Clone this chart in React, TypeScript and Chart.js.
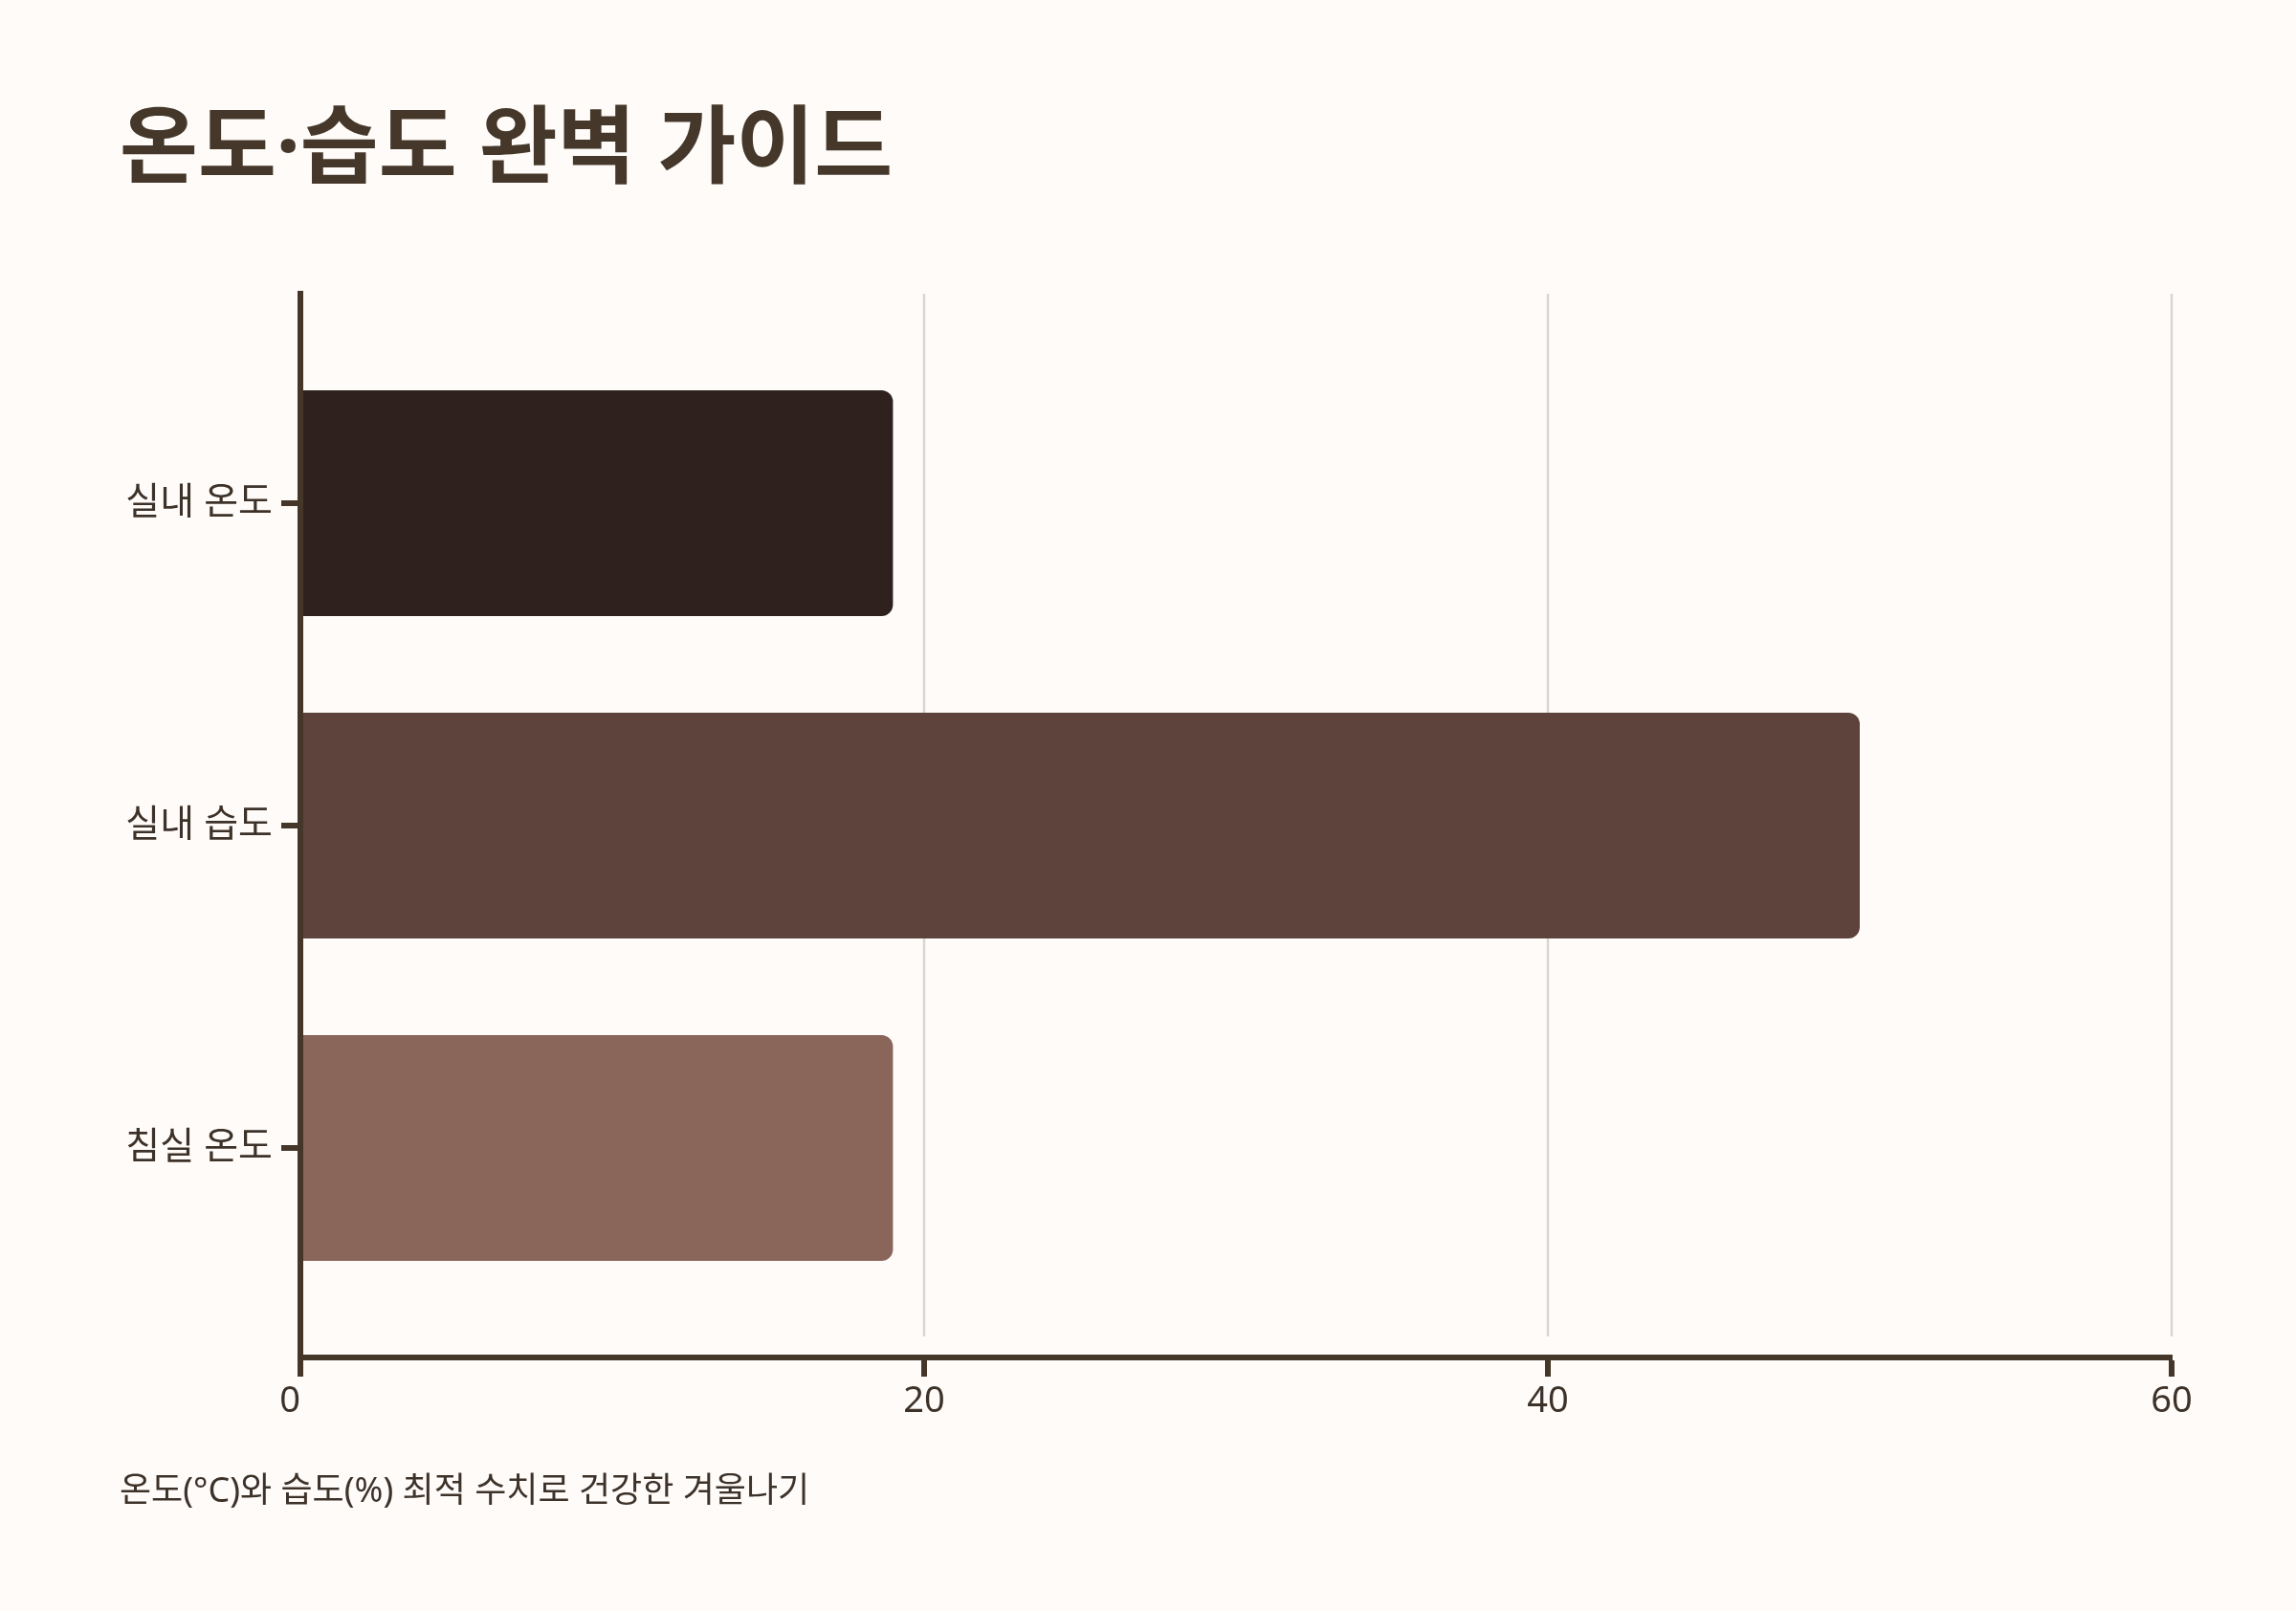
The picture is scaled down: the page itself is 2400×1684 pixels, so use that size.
import React, { useEffect, useRef } from "react";
import { Chart, registerables } from "chart.js";

Chart.register(...registerables);

const TITLE = "온도·습도 완벽 가이드";
const SUBTITLE = "온도(°C)와 습도(%) 최적 수치로 건강한 겨울나기";
const categories = ["실내 온도", "실내 습도", "침실 온도"];
const values = [19, 50, 19];
const barColors = ["#2e211e", "#5d433c", "#8a655a"];
const xTicks = [0, 20, 40, 60];

const BG = "#fefbf8";
const INK = "#44372a";
const TEXT = "#3d3229";
const GRID = "#d9d6d2";
const FONT = "'Noto Sans', 'Noto Sans CJK KR', sans-serif";

const shortGrid = {
  id: "shortGrid",
  beforeDatasetsDraw(chart: any) {
    const { ctx, chartArea, scales } = chart;
    const xs = scales.x;
    ctx.save();
    ctx.strokeStyle = GRID;
    ctx.lineWidth = 2.5;
    xs.ticks.forEach((t: any) => {
      const px = xs.getPixelForValue(t.value);
      ctx.beginPath();
      ctx.moveTo(px, chartArea.top);
      ctx.lineTo(px, chartArea.bottom - 22);
      ctx.stroke();
    });
    ctx.restore();
  },
};

export default function App() {
  const ref = useRef<HTMLCanvasElement | null>(null);

  useEffect(() => {
    document.body.style.margin = "0";
    document.body.style.background = BG;
    const chart = new Chart(ref.current as HTMLCanvasElement, {
      type: "bar",
      data: {
        labels: categories,
        datasets: [
          {
            data: values.map((v, i) => ({ x: v, y: i })),
            backgroundColor: barColors,
            borderRadius: 12,
            borderSkipped: "start",
            categoryPercentage: 0.875,
            barPercentage: 0.8,
          },
        ],
      },
      options: {
        indexAxis: "y",
        responsive: false,
        animation: false,
        devicePixelRatio: 1,
        layout: { padding: { left: 125, right: 130, top: 0, bottom: 0 } },
        plugins: {
          legend: { display: false },
          tooltip: { enabled: false },
          title: {
            display: true,
            text: TITLE,
            align: "start",
            color: "#45382b",
            font: { family: FONT, size: 89, weight: "bold", lineHeight: 1.2 },
            padding: { top: 105.5, bottom: 94.7 },
          },
          subtitle: {
            display: true,
            text: SUBTITLE,
            position: "bottom",
            align: "start",
            color: TEXT,
            font: { family: FONT, size: 36, lineHeight: 1.2 },
            padding: { top: 47.8, bottom: 102.4 },
          },
        },
        scales: {
          x: {
            type: "linear",
            min: 0,
            max: 60,
            afterBuildTicks: (axis: any) => {
              axis.ticks = xTicks.map((v) => ({ value: v }));
            },
            ticks: {
              color: TEXT,
              font: { family: FONT, size: 38 },
              padding: 3,
              callback: (v: any, i: number) => (i === 0 ? `${v}\u2007` : `${v}`),
            },
            grid: { color: "transparent", tickColor: INK, tickWidth: 6, tickLength: 20, lineWidth: 2 },
            border: { display: true, color: INK, width: 6, z: 1 },
          },
          y: {
            type: "linear",
            reverse: true,
            offset: false,
            min: -0.65,
            max: 2.65,
            afterBuildTicks: (axis: any) => {
              axis.ticks = categories.map((_, i) => ({ value: i }));
            },
            afterFit: (axis: any) => {
              axis.width = 189;
            },
            ticks: {
              color: TEXT,
              font: { family: FONT, size: 39 },
              padding: 9,
              callback: (v: any) => categories[Number(v)] ?? "",
            },
            grid: { offset: false, color: "transparent", tickColor: INK, tickWidth: 6, tickLength: 20, lineWidth: 2 },
            border: { display: true, color: INK, width: 6, z: 1 },
          },
        },
      },
      plugins: [shortGrid],
    });
    return () => chart.destroy();
  }, []);

  return (
    <div style={{ position: "absolute", left: 0, top: 0, width: 2400, height: 1684, background: BG }}>
      <canvas ref={ref} width={2400} height={1684} style={{ display: "block" }} />
    </div>
  );
}
